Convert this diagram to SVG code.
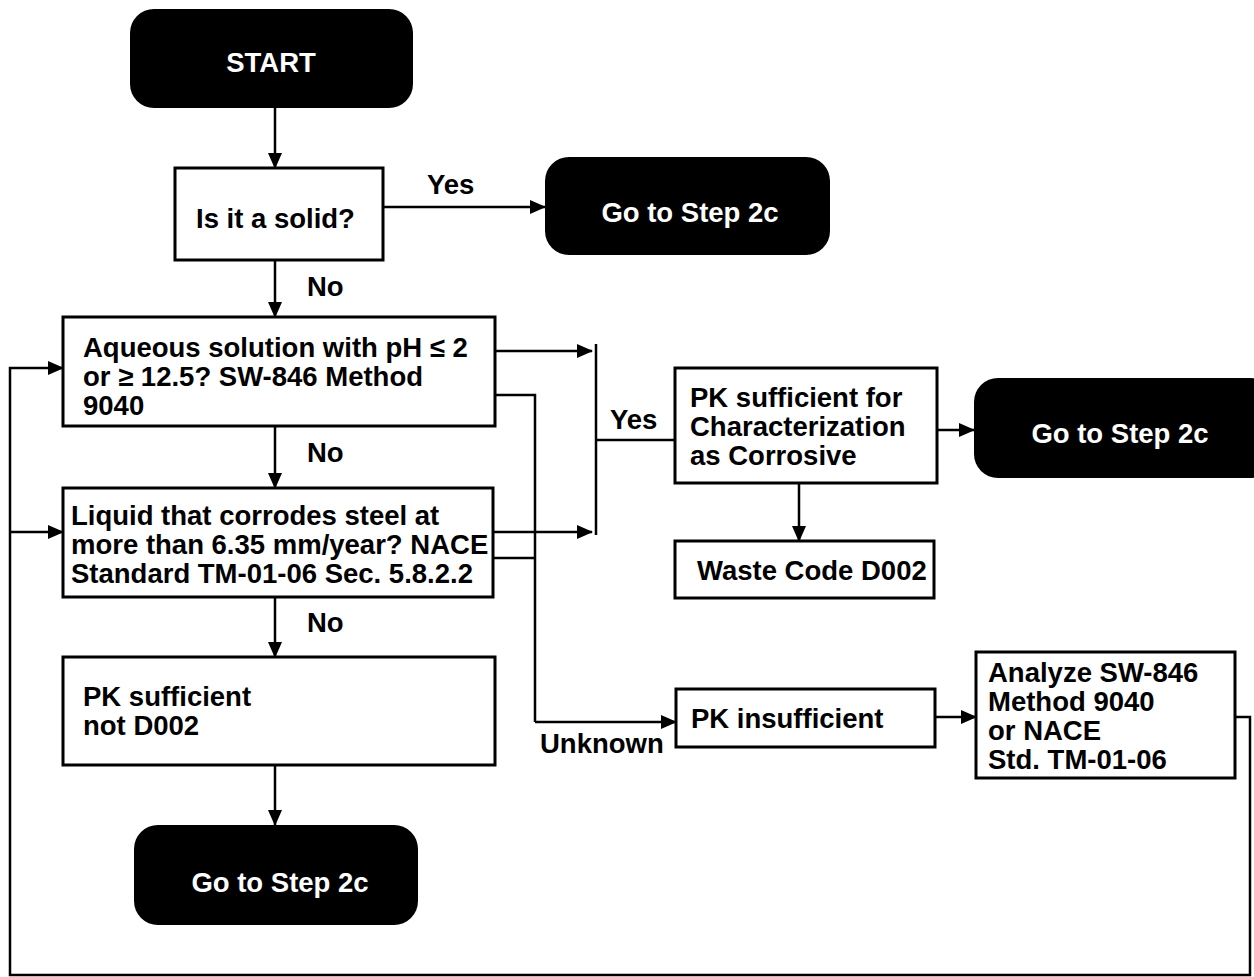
<svg xmlns="http://www.w3.org/2000/svg" width="1254" height="977" viewBox="0 0 1254 977">
<style>
.box{fill:#fff;stroke:#000;stroke-width:3}
.term{fill:#000;stroke:none}
.t{font-family:"Liberation Sans",Arial,sans-serif;font-weight:bold;font-size:27.5px;fill:#000}
.tw{font-family:"Liberation Sans",Arial,sans-serif;font-weight:bold;font-size:27.5px;fill:#fff;text-anchor:middle}
.c{fill:none;stroke:#000;stroke-width:2.5}
.a{marker-end:url(#ah)}
</style>
<defs>
<marker id="ah" markerUnits="userSpaceOnUse" markerWidth="16" markerHeight="14" refX="15" refY="7" orient="auto">
<path d="M0,0 L16,7 L0,14 Z" fill="#000"/>
</marker>
</defs>
<rect width="1254" height="977" fill="#fff"/>
<g id="connectors">
<path class="c a" d="M275,108 V168"/>
<path class="c a" d="M383,207 H545"/>
<path class="c a" d="M275,260 V317"/>
<path class="c a" d="M275,426 V488"/>
<path class="c a" d="M275,597 V657"/>
<path class="c a" d="M275,765 V825"/>
<path class="c a" d="M495,351 H592"/>
<path class="c a" d="M493,532 H592"/>
<path class="c" d="M596,344 V535"/>
<path class="c" d="M596,440 H675"/>
<path class="c" d="M495,395 H535 V722"/>
<path class="c" d="M493,558 H535"/>
<path class="c a" d="M535,722 H676"/>
<path class="c a" d="M937,430 H974"/>
<path class="c a" d="M799,483 V541"/>
<path class="c a" d="M935,717 H976"/>
<path class="c a" d="M1235,717 H1250 V975 H10 V368 H63"/>
<path class="c a" d="M10,532 H63"/>
<text class="t" x="427" y="194">Yes</text>
<text class="t" x="307" y="296">No</text>
<text class="t" x="307" y="462">No</text>
<text class="t" x="307" y="632">No</text>
<text class="t" x="610" y="429">Yes</text>
<text class="t" x="540" y="753">Unknown</text>
</g>
<g id="start">
<rect class="term" x="130" y="9" width="283" height="99" rx="24"/>
<text class="tw" x="271" y="72">START</text>
</g>
<g id="solid">
<rect class="box" x="175" y="168" width="208" height="92"/>
<text class="t" x="196" y="228">Is it a solid?</text>
</g>
<g id="goto1">
<rect class="term" x="545" y="157" width="285" height="98" rx="24"/>
<text class="tw" x="690" y="222">Go to Step 2c</text>
</g>
<g id="aqueous">
<rect class="box" x="63" y="317" width="432" height="109"/>
<text class="t" x="83" y="357"><tspan x="83">Aqueous solution with pH ≤ 2</tspan><tspan x="83" dy="29">or ≥ 12.5? SW-846 Method</tspan><tspan x="83" dy="29">9040</tspan></text>
</g>
<g id="liquid">
<rect class="box" x="63" y="488" width="430" height="109"/>
<text class="t" x="71" y="525"><tspan x="71">Liquid that corrodes steel at</tspan><tspan x="71" dy="29">more than 6.35 mm/year? NACE</tspan><tspan x="71" dy="29">Standard TM-01-06 Sec. 5.8.2.2</tspan></text>
</g>
<g id="notd002">
<rect class="box" x="63" y="657" width="432" height="108"/>
<text class="t" x="83" y="706"><tspan x="83">PK sufficient</tspan><tspan x="83" dy="29">not D002</tspan></text>
</g>
<g id="goto3">
<rect class="term" x="134" y="825" width="284" height="100" rx="24"/>
<text class="tw" x="280" y="892">Go to Step 2c</text>
</g>
<g id="pksuff">
<rect class="box" x="675" y="368" width="262" height="115"/>
<text class="t" x="690" y="407"><tspan x="690">PK sufficient for</tspan><tspan x="690" dy="29">Characterization</tspan><tspan x="690" dy="29">as Corrosive</tspan></text>
</g>
<g id="goto2">
<rect class="term" x="974" y="378" width="300" height="100" rx="24"/>
<text class="tw" x="1120" y="443">Go to Step 2c</text>
</g>
<g id="waste">
<rect class="box" x="675" y="541" width="259" height="57"/>
<text class="t" x="697" y="580">Waste Code D002</text>
</g>
<g id="pkinsuff">
<rect class="box" x="676" y="689" width="259" height="58"/>
<text class="t" x="691" y="728">PK insufficient</text>
</g>
<g id="analyze">
<rect class="box" x="976" y="652" width="259" height="126"/>
<text class="t" x="988" y="682"><tspan x="988">Analyze SW-846</tspan><tspan x="988" dy="29">Method 9040</tspan><tspan x="988" dy="29">or NACE</tspan><tspan x="988" dy="29">Std. TM-01-06</tspan></text>
</g>
</svg>
